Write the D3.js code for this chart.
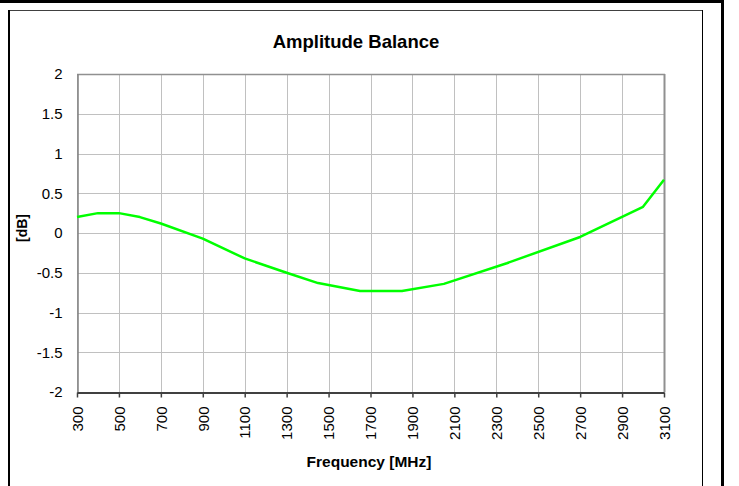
<!DOCTYPE html>
<html><head><meta charset="utf-8">
<script src="https://cdn.jsdelivr.net/npm/d3@7"></script>
<style>html,body{margin:0;padding:0;background:#fff}svg{display:block}text{font-family:"Liberation Sans",Arial,sans-serif}</style>
</head><body>
<script>
const title = "Amplitude Balance";
const xTitle = "Frequency [MHz]";
const yTitle = "[dB]";
const freq = [300, 400, 500, 600, 700, 900, 1100, 1300, 1450, 1650, 1850, 2050, 2350, 2700, 3000, 3100];
const balance = [0.20, 0.25, 0.25, 0.20, 0.12, -0.07, -0.32, -0.50, -0.63, -0.73, -0.73, -0.64, -0.38, -0.05, 0.33, 0.67];
const xTicks = [300, 500, 700, 900, 1100, 1300, 1500, 1700, 1900, 2100, 2300, 2500, 2700, 2900, 3100];
const yTicks = [-2, -1.5, -1, -0.5, 0, 0.5, 1, 1.5, 2];

const W = 739, H = 486;
const L = 77, R = 664, T = 74, B = 392;
const svg = d3.select("body").append("svg").attr("width", W).attr("height", H);
svg.append("rect").attr("width", W).attr("height", H).attr("fill", "#fff");

// frames
svg.append("rect").attr("x", 0).attr("y", 0).attr("width", 724).attr("height", 3).attr("fill", "#000");
svg.append("rect").attr("x", 721).attr("y", 0).attr("width", 3).attr("height", H).attr("fill", "#000");
svg.append("line").attr("x1", 9).attr("x2", 703).attr("y1", 10.5).attr("y2", 10.5).attr("stroke", "#404040").attr("stroke-width", 1);
svg.append("rect").attr("x", 8).attr("y", 10).attr("width", 2).attr("height", H - 10).attr("fill", "#000");
svg.append("line").attr("x1", 702.5).attr("x2", 702.5).attr("y1", 10).attr("y2", H).attr("stroke", "#000").attr("stroke-width", 1);

const x = d3.scaleLinear().domain([300, 3100]).range([L, R]);
const y = d3.scaleLinear().domain([-2, 2]).range([B, T]);

// grid
svg.append("g").selectAll("line").data(yTicks).join("line")
  .attr("x1", L).attr("x2", R).attr("y1", d => Math.round(y(d)) + 0.5).attr("y2", d => Math.round(y(d)) + 0.5)
  .attr("stroke", "#c0c0c0").attr("stroke-width", 1);
svg.append("g").selectAll("line").data(xTicks).join("line")
  .attr("y1", T).attr("y2", B).attr("x1", d => Math.round(x(d)) + 0.5).attr("x2", d => Math.round(x(d)) + 0.5)
  .attr("stroke", "#c0c0c0").attr("stroke-width", 1);

// plot border top/right
svg.append("line").attr("x1", L).attr("x2", R + 1).attr("y1", T + 0.5).attr("y2", T + 0.5).attr("stroke", "#909090").attr("stroke-width", 1.5);
svg.append("line").attr("x1", R + 0.5).attr("x2", R + 0.5).attr("y1", T).attr("y2", B).attr("stroke", "#909090").attr("stroke-width", 2);

// y axis
const yAxis = svg.append("g").attr("transform", `translate(${L + 0.5},0)`)
  .call(d3.axisLeft(y).tickValues(yTicks).tickSize(0).tickPadding(15).tickFormat(d => String(d)));
yAxis.select(".domain").attr("stroke", "#808080").attr("stroke-width", 1.5);
yAxis.selectAll("text").attr("font-size", 15).attr("fill", "#000").attr("font-family", "Liberation Sans, Arial, sans-serif");

// x axis
const xAxis = svg.append("g").attr("transform", `translate(0,${B + 0.5})`)
  .call(d3.axisBottom(x).tickValues(xTicks).tickSize(5).tickSizeOuter(0).tickFormat(d => String(d)));
xAxis.select(".domain").attr("stroke", "#404040").attr("stroke-width", 2);
xAxis.selectAll(".tick line").attr("stroke", "#404040").attr("stroke-width", 1.5);
xAxis.selectAll("text").attr("font-size", 15).attr("fill", "#000").attr("font-family", "Liberation Sans, Arial, sans-serif")
  .attr("transform", "rotate(-90)").attr("text-anchor", "end").attr("x", -14).attr("y", 0).attr("dy", "0.35em");

// line
svg.append("path").datum(freq.map((f, i) => [f, balance[i]]))
  .attr("d", d3.line().x(d => x(d[0])).y(d => y(d[1])))
  .attr("fill", "none").attr("stroke", "#00ff00").attr("stroke-width", 2.5).attr("stroke-linejoin", "round");

// titles
svg.append("text").attr("x", 356).attr("y", 48).attr("text-anchor", "middle")
  .attr("font-size", 18.5).attr("font-weight", "bold").text(title);
svg.append("text").attr("x", 369).attr("y", 467).attr("text-anchor", "middle")
  .attr("font-size", 15.5).attr("font-weight", "bold").text(xTitle);
svg.append("text").attr("transform", "translate(27,228) rotate(-90)").attr("text-anchor", "middle")
  .attr("font-size", 14).attr("font-weight", "bold").text(yTitle);
</script>
</body></html>
